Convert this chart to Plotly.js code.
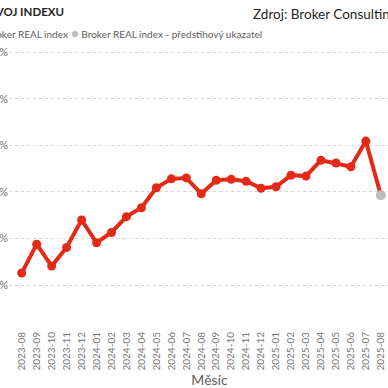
<!DOCTYPE html>
<html>
<head>
<meta charset="utf-8">
<script src="https://cdn.plot.ly/plotly-3.0.1.min.js"></script>
<style>
  html, body { margin: 0; padding: 0; width: 388px; height: 388px; overflow: hidden; background: #fff; position: relative; }
  #chart { position: absolute; left: -40px; top: 0; width: 460px; height: 388px; }
</style>
</head>
<body>
<div id="chart"></div>
<script>
const months = ["2023-08","2023-09","2023-10","2023-11","2023-12","2024-01","2024-02","2024-03","2024-04","2024-05","2024-06","2024-07","2024-08","2024-09","2024-10","2024-11","2024-12","2025-01","2025-02","2025-03","2025-04","2025-05","2025-06","2025-07","2025-08"];
const indexValues = [0.26, 0.88, 0.41, 0.81, 1.40, 0.91, 1.13, 1.47, 1.66, 2.09, 2.28, 2.30, 1.96, 2.25, 2.27, 2.23, 2.08, 2.11, 2.36, 2.34, 2.68, 2.62, 2.54, 3.09, 1.93];
const leadMonths = ["2025-08"];
const leadValues = [1.93];
const yTickVals = [0, 1, 2, 3, 4, 5];
const yTickText = ["0 %", "1 %", "2 %", "3 %", "4 %", "5 %"];
const seriesNames = ["Broker REAL index", "Broker REAL index - předstihový ukazatel"];
const seriesColors = ["#E42A16", "#BDBDBD"];

const font = 'Lato, "Segoe UI", "Noto Sans", sans-serif';

const W = 460, H = 388, ML = 49, MR = 10, MT = 46, MB = 59, OFF = 40;
const PW = W - ML - MR, PH = H - MT - MB;
const px = v => (v + OFF - ML) / PW;  // viewport x pixel -> paper x
const py = v => (H - MB - v) / PH;    // viewport y pixel -> paper y

const traces = [
  {
    x: months, y: indexValues, type: 'scatter', mode: 'lines+markers',
    name: seriesNames[0],
    line: { color: seriesColors[0], width: 4 },
    marker: { color: seriesColors[0], size: 9 }
  },
  {
    x: leadMonths, y: leadValues, type: 'scatter', mode: 'markers',
    name: seriesNames[1],
    marker: { color: seriesColors[1], size: 10 }
  }
];

const dot = c => '<span style="color:' + c + ';font-size:13px">●</span>';

const layout = {
  width: W, height: H,
  margin: { l: ML, r: MR, t: MT, b: MB },
  paper_bgcolor: '#fff', plot_bgcolor: '#fff',
  font: { family: font, color: '#605E5C' },
  title: {
    text: '<b>VÝVOJ INDEXU</b>',
    x: (64 + OFF) / W, xanchor: 'right', xref: 'container',
    y: 1 - 12 / H, yanchor: 'middle', yref: 'container',
    font: { family: font, size: 11.5, color: '#252423' }
  },
  showlegend: false,
  xaxis: {
    type: 'category', automargin: false,
    range: [-0.85, 25.95],
    tickangle: -90,
    tickfont: { family: font, size: 10, color: '#777' },
    showgrid: false, zeroline: false, showline: false, ticks: '',
    title: { text: 'Měsíc', font: { family: font, size: 14, color: '#605E5C' }, standoff: 14 }
  },
  yaxis: {
    automargin: false,
    range: [-0.94, 5.13],
    tickvals: yTickVals, ticktext: yTickText,
    tickfont: { family: font, size: 11, color: '#777' },
    showgrid: true, gridcolor: '#D6D6D6', griddash: 'dot', gridwidth: 1,
    zeroline: false, showline: false, ticks: ''
  },
  annotations: [
    {
      text: 'Zdroj: Broker Consulting',
      xref: 'paper', yref: 'paper',
      x: px(251), xanchor: 'left',
      y: py(14), yanchor: 'middle',
      showarrow: false,
      font: { family: font, size: 13.5, color: '#252423' }
    },
    {
      text: dot(seriesColors[0]) + ' ' + seriesNames[0],
      xref: 'paper', yref: 'paper',
      x: px(70), xanchor: 'right',
      y: py(33), yanchor: 'middle',
      showarrow: false,
      font: { family: font, size: 10, color: '#605E5C' }
    },
    {
      text: dot(seriesColors[1]) + ' ' + seriesNames[1],
      xref: 'paper', yref: 'paper',
      x: px(69), xanchor: 'left',
      y: py(33), yanchor: 'middle',
      showarrow: false,
      font: { family: font, size: 10, color: '#605E5C' }
    }
  ]
};

Plotly.newPlot('chart', traces, layout, { displayModeBar: false, staticPlot: true });
</script>
</body>
</html>
